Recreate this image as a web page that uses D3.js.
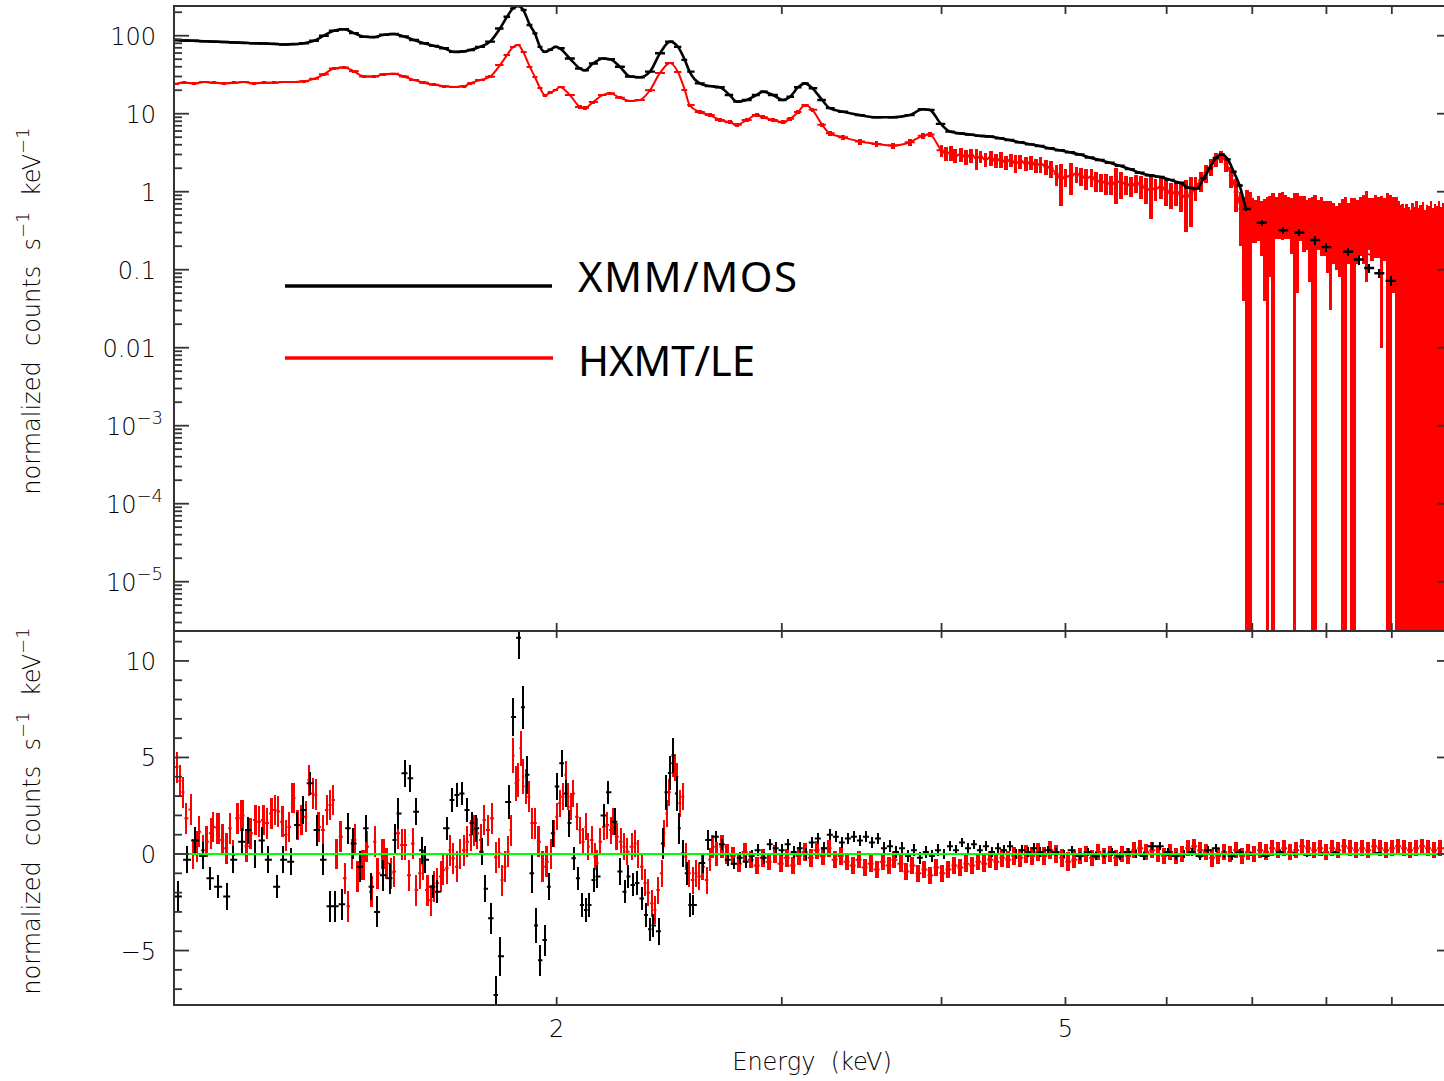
<!DOCTYPE html>
<html>
<head>
<meta charset="utf-8">
<script src="https://cdn.jsdelivr.net/npm/d3@7"></script>
<style>
  html, body { margin: 0; padding: 0; background: #fff; }
  svg { display: block; }
  .lbl { font-family: "DejaVu Sans", sans-serif; font-weight: 200; fill: #000; font-size: 24px; }
  .legend { font-family: "Noto Sans", "Open Sans", sans-serif; fill: #000; font-size: 42px; }
</style>
</head>
<body>
<svg id="chart" width="1444" height="1081"></svg>
<script>
// ---------------- data: [energy keV, normalized counts s^-1 keV^-1, error] ----------------
const mosSpectrum = [
  [1.004,88,1.2],[1.022,87,1.2],[1.041,86,1.2],[1.060,85,1.1],[1.079,84,1.1],[1.099,83,1.1],[1.119,82,1.1],[1.139,81,1.1],
  [1.160,80,1.0],[1.181,79.5,1.0],[1.202,78.5,1.0],[1.224,77,1.0],[1.246,78,1.0],[1.269,80,1.0],[1.292,86,1.1],[1.315,100,1.3],
  [1.339,116,1.5],[1.364,121,1.5],[1.388,108,1.4],[1.414,97,1.3],[1.439,96,1.3],[1.466,103,1.3],[1.492,105,1.4],[1.519,98,1.3],
  [1.547,88,1.2],[1.575,80,1.1],[1.604,74,1.0],[1.633,69,1.0],[1.662,62,0.9],[1.693,63,0.9],[1.711,65.5,0.9],[1.742,72,1.0],
  [1.774,84,1.1],[1.806,124,1.6],[1.829,175,2.2],[1.849,224,2.8],[1.866,240,3.0],[1.883,214,2.7],[1.906,137,1.8],[1.923,107,1.4],
  [1.941,72,1.0],[1.958,62,0.9],[1.976,66,0.9],[1.997,72,1.0],[2.011,69,1.0],[2.048,51,0.8],[2.086,38,0.6],[2.104,36,0.6],
  [2.135,44,0.7],[2.174,51,0.8],[2.202,50,0.8],[2.241,40,0.7],[2.282,30,0.5],[2.323,29.3,0.5],[2.366,34.6,0.6],[2.409,59.5,0.9],
  [2.453,84,1.2],[2.488,72,1.1],[2.519,49,0.8],[2.541,34.6,0.6],[2.588,24.5,0.4],[2.635,22.6,0.4],[2.683,21.8,0.4],[2.731,17.4,0.35],
  [2.766,14.3,0.3],[2.816,15,0.3],[2.868,17.4,0.35],[2.899,19.2,0.35],[2.952,17.4,0.3],[3.006,15,0.3],[3.045,16.5,0.35],[3.089,21.8,0.4],
  [3.128,24.5,0.4],[3.170,21.2,0.35],[3.226,15,0.3],[3.270,11.8,0.25],[3.350,10.6,0.22],[3.453,9.6,0.2],[3.558,9.0,0.2],[3.664,9.0,0.2],
  [3.777,9.6,0.2],[3.867,11.4,0.2],[3.915,11.2,0.2],[3.995,7.4,0.22],[4.06,5.9,0.15],[4.134,5.6,0.13],[4.21,5.4,0.13],[4.285,5.2,0.12],
  [4.36,5.1,0.12],[4.443,4.85,0.12],[4.52,4.6,0.11],[4.605,4.3,0.1],[4.69,4.05,0.1],[4.774,3.85,0.09],[4.86,3.6,0.09],[4.95,3.4,0.08],
  [5.04,3.2,0.08],[5.131,3.0,0.07],[5.22,2.75,0.07],[5.319,2.55,0.07],[5.415,2.35,0.06],[5.514,2.15,0.06],[5.614,1.95,0.05],[5.715,1.75,0.05],
  [5.82,1.62,0.05],[5.925,1.55,0.05],[6.033,1.42,0.05],[6.142,1.3,0.05],[6.25,1.12,0.04],[6.334,1.1,0.04],[6.415,1.5,0.05],[6.48,2.0,0.06],
  [6.555,2.7,0.08],[6.626,3.0,0.09],[6.698,2.6,0.08],[6.77,1.8,0.07],[6.842,1.2,0.05],[6.92,0.6,0.04],[7.12,0.40,0.04],[7.40,0.32,0.035],
  [7.62,0.30,0.03],[7.84,0.24,0.03],[8.00,0.195,0.025],[8.32,0.17,0.02],[8.48,0.135,0.02],[8.64,0.105,0.015],[8.80,0.09,0.012],[8.98,0.072,0.01]
];

const leSpectrum = [
  [1.004,24,1.0],[1.022,25,1.0],[1.041,24.5,1.0],[1.060,25.5,1.0],[1.079,25,1.0],[1.099,24.5,1.0],[1.119,25,1.0],[1.139,25.5,1.0],
  [1.160,24.5,1.0],[1.181,25,1.0],[1.202,25,1.0],[1.224,25.5,1.0],[1.246,25.5,1.0],[1.269,26,1.0],[1.292,28,1.1],[1.315,32,1.2],
  [1.339,38,1.4],[1.364,39,1.4],[1.388,35,1.3],[1.414,30,1.2],[1.439,30,1.2],[1.466,32,1.2],[1.492,32.5,1.2],[1.519,30,1.2],
  [1.547,27,1.1],[1.575,25,1.0],[1.604,23.5,1.0],[1.633,22.5,0.9],[1.662,22,0.9],[1.693,22.5,0.9],[1.711,24.5,1.0],[1.742,27,1.0],
  [1.774,29.8,1.1],[1.806,42,1.5],[1.829,56.5,2.0],[1.849,71.6,2.4],[1.866,76,2.5],[1.883,61.8,2.2],[1.906,39.7,1.5],[1.923,29.6,1.2],
  [1.941,21.4,0.9],[1.958,17.3,0.8],[1.976,18.5,0.8],[1.997,20.2,0.8],[2.011,22.0,0.9],[2.048,17.4,0.7],[2.086,12.2,0.6],[2.104,11.8,0.6],
  [2.135,14.1,0.6],[2.174,17.4,0.7],[2.202,18.3,0.7],[2.241,16,0.7],[2.282,14.6,0.6],[2.323,15,0.6],[2.366,20,0.8],[2.409,33.3,1.2],
  [2.453,44.7,1.6],[2.488,34.3,1.3],[2.519,20.2,0.8],[2.541,12.9,0.6],[2.588,10.5,0.5],[2.635,9.6,0.5],[2.683,8.3,0.5],[2.731,7.8,0.5],
  [2.766,7.2,0.5],[2.816,8.3,0.5],[2.868,9.6,0.5],[2.899,9.0,0.5],[2.952,8.3,0.5],[3.006,7.8,0.5],[3.045,8.6,0.5],[3.089,10.5,0.6],
  [3.128,12.9,0.6],[3.170,11.2,0.6],[3.226,7.2,0.5],[3.270,5.6,0.4],[3.350,5.0,0.4],[3.453,4.4,0.4],[3.558,4.1,0.35],[3.664,3.9,0.35],
  [3.777,4.3,0.4],[3.867,5.2,0.4],[3.915,5.4,0.4],
  [4.00,3.4,0.6],[4.03,3.1,0.6],[4.07,3.2,0.7],[4.10,2.9,0.6],[4.14,3.0,0.6],[4.18,2.8,0.6],[4.22,2.95,0.6],[4.26,2.7,0.8],
  [4.29,2.8,0.5],[4.33,2.6,0.5],[4.37,2.75,0.6],[4.41,2.5,0.5],[4.45,2.6,0.6],[4.49,2.4,0.5],[4.53,2.55,0.5],[4.57,2.35,0.6],
  [4.61,2.45,0.5],[4.66,2.3,0.45],[4.70,2.4,0.5],[4.74,2.2,0.45],[4.78,2.25,0.5],[4.83,2.1,0.45],[4.87,2.0,0.5],[4.92,1.7,0.5],
  [4.96,1.45,0.8],[5.00,1.55,0.4],[5.05,1.6,0.7],[5.10,1.7,0.4],[5.14,1.6,0.4],[5.19,1.5,0.45],[5.24,1.55,0.4],[5.28,1.4,0.4],
  [5.33,1.35,0.35],[5.38,1.3,0.4],[5.43,1.25,0.35],[5.48,1.35,0.65],[5.53,1.3,0.5],[5.58,1.25,0.35],[5.63,1.2,0.35],[5.68,1.3,0.35],
  [5.73,1.2,0.4],[5.78,1.1,0.4],[5.83,1.05,0.6],[5.88,1.1,0.35],[5.94,1.15,0.35],[5.99,1.05,0.4],[6.05,0.95,0.35],[6.10,1.0,0.35],
  [6.16,0.9,0.35],[6.21,0.85,0.55],[6.27,0.95,0.6],[6.32,1.15,0.4],[6.38,1.4,0.4],[6.44,1.75,0.45],[6.50,2.1,0.5],[6.56,2.6,0.5],
  [6.62,2.85,0.5],[6.68,2.3,0.5],[6.74,1.6,0.5],[6.80,1.0,0.45],[6.86,0.6,0.4],
  [6.89,0.45,0.41],[6.93,0.50,0.55],[6.97,0.48,0.50],[7.00,0.52,0.30],[7.04,0.50,0.28],[7.08,0.55,0.32],[7.12,0.45,0.30],[7.16,0.42,0.38],
  [7.19,0.40,0.45],[7.23,0.48,0.40],[7.27,0.45,0.50],[7.31,0.55,0.30],[7.35,0.60,0.35],[7.39,0.62,0.38],[7.43,0.58,0.33],[7.47,0.55,0.30],
  [7.51,0.50,0.34],[7.55,0.45,0.50],[7.59,0.50,0.45],[7.64,0.55,0.32],[7.68,0.52,0.35],[7.72,0.48,0.30],[7.76,0.45,0.38],[7.80,0.40,0.45],
  [7.84,0.42,0.48],[7.89,0.48,0.30],[7.93,0.50,0.35],[7.97,0.45,0.30],[8.02,0.42,0.33],[8.06,0.40,0.37],[8.10,0.42,0.30],[8.15,0.38,0.28],
  [8.19,0.40,0.32],[8.24,0.38,0.42],[8.28,0.40,0.45],[8.32,0.42,0.30],[8.37,0.38,0.45],[8.41,0.40,0.44],[8.46,0.45,0.33],[8.51,0.50,0.35],
  [8.55,0.52,0.40],[8.60,0.55,0.48],[8.64,0.50,0.32],[8.69,0.48,0.35],[8.74,0.52,0.38],[8.79,0.50,0.36],[8.83,0.45,0.44],[8.88,0.48,0.35],
  [8.93,0.45,0.50],[8.98,0.42,0.48],[9.03,0.45,0.40],[9.07,0.40,0.45],
  [9.11,0.35,0.40],[9.14,0.30,0.38],[9.17,0.33,0.36],[9.21,0.28,0.33],[9.24,0.32,0.37],[9.28,0.30,0.34],[9.31,0.27,0.31],[9.34,0.33,0.38],
  [9.38,0.30,0.33],[9.41,0.35,0.40],[9.45,0.29,0.32],[9.48,0.31,0.36],[9.52,0.34,0.39],[9.55,0.28,0.31],[9.59,0.32,0.36],[9.62,0.30,0.35],
  [9.66,0.36,0.41],[9.69,0.29,0.33],[9.73,0.33,0.37],[9.76,0.31,0.34],[9.80,0.35,0.40],[9.83,0.30,0.33],[9.87,0.34,0.38],[9.90,0.32,0.36],
  [9.94,0.33,0.37],[9.97,0.30,0.35],[10.01,0.34,0.38]
];

// HXMT/LE folded model above the iron line
const leModel = [
  [6.9,0.62],[7.1,0.45],[7.4,0.36],[7.7,0.29],[8.0,0.23],[8.3,0.19],[8.6,0.16],[8.9,0.14],[9.2,0.12],[9.6,0.105],[10.0,0.095]
];

// residuals: [energy keV, data - model, error]
const mosResid = [
  [1.011,-2.2,0.8],[1.028,-0.3,0.7],[1.043,0.7,0.7],[1.058,-0.1,0.7],[1.071,-1.26,0.6],[1.087,-1.7,0.6],[1.105,-2.2,0.7],[1.117,-0.3,0.7],
  [1.135,0.64,0.7],[1.147,1.24,0.7],[1.162,0.0,0.7],[1.176,0.7,0.7],[1.189,-0.3,0.7],[1.209,-1.7,0.6],[1.222,-0.3,0.7],[1.240,-0.4,0.7],
  [1.253,1.5,0.7],[1.267,2.28,0.7],[1.283,3.66,0.6],[1.299,1.24,0.8],[1.313,-0.3,0.8],[1.330,-2.7,0.8],[1.342,-2.7,0.8],[1.359,-2.6,0.8],
  [1.374,1.33,0.8],[1.386,0.55,0.8],[1.404,-0.66,0.8],[1.419,1.33,0.7],[1.432,-1.7,0.7],[1.447,-3.0,0.8],[1.463,-1.1,0.8],[1.481,-1.26,0.8],
  [1.495,0.73,0.8],[1.503,2.1,0.8],[1.522,4.18,0.7],[1.536,3.92,0.7],[1.553,2.19,0.7],[1.569,0.2,0.7],[1.578,-0.3,0.7],[1.601,-1.7,0.6],
  [1.612,-1.95,0.6],[1.642,1.33,0.6],[1.656,2.8,0.6],[1.671,3.06,0.6],[1.686,3.14,0.6],[1.702,2.28,0.6],[1.717,1.6,0.6],[1.730,1.33,0.7],
  [1.749,0.12,0.7],[1.758,-1.8,0.7],[1.777,-3.33,0.8],[1.793,-7.3,1.0],[1.806,-5.3,1.0],[1.836,2.7,0.9],[1.849,7.1,1.0],[1.869,11.2,1.1],
  [1.882,7.6,1.1],[1.896,4.1,1.0],[1.913,-1.0,1.0],[1.927,-3.7,0.9],[1.941,-5.5,0.8],[1.958,-4.46,0.8],[1.972,-1.7,0.7],[1.986,1.07,0.7],
  [2.000,3.5,0.7],[2.019,4.7,0.7],[2.034,3.14,0.7],[2.045,1.6,0.7],[2.063,-0.22,0.6],[2.078,-1.26,0.6],[2.093,-2.64,0.6],[2.109,-2.9,0.6],
  [2.120,-2.64,0.6],[2.139,-1.35,0.6],[2.151,-1.17,0.6],[2.178,2.0,0.6],[2.194,3.2,0.6],[2.221,1.67,0.7],[2.241,-0.9,0.7],[2.262,-1.95,0.6],
  [2.274,-1.17,0.6],[2.295,-1.6,0.6],[2.311,-1.5,0.6],[2.332,-2.3,0.6],[2.349,-3.16,0.6],[2.366,-3.9,0.6],[2.379,-3.7,0.6],[2.404,-4.0,0.7],
  [2.422,0.55,0.8],[2.435,3.2,0.9],[2.452,4.2,0.9],[2.466,5.1,0.9],[2.483,3.14,0.9],[2.492,1.33,0.8],[2.510,0.03,0.7],[2.528,-1.0,0.6],
  [2.542,-2.64,0.6],[2.556,-2.64,0.5],[2.602,-0.47,0.5],[2.625,0.72,0.5],
  [2.664,0.9,0.3],[2.693,0.5,0.3],[2.722,-0.3,0.3],[2.751,-0.5,0.3],[2.781,-0.2,0.3],[2.811,-0.4,0.3],[2.841,-0.1,0.3],[2.872,0.2,0.3],
  [2.904,-0.2,0.3],[2.935,0.5,0.3],[2.967,0.3,0.3],[2.999,0.2,0.3],[3.032,0.5,0.3],[3.065,0.1,0.3],[3.099,0.3,0.3],[3.132,0.0,0.3],
  [3.166,0.6,0.3],[3.201,0.8,0.3],[3.236,0.3,0.3],[3.271,1.0,0.3],[3.307,0.9,0.3],[3.343,0.6,0.3],[3.379,0.8,0.3],[3.416,0.9,0.3],
  [3.453,0.7,0.3],[3.491,0.9,0.3],[3.529,0.6,0.3],[3.567,0.8,0.3],[3.606,0.3,0.3],[3.645,0.4,0.3],[3.685,0.1,0.3],[3.725,0.3,0.3],
  [3.766,-0.1,0.3],[3.807,0.2,0.3],[3.846,-0.2,0.3],[3.889,0.1,0.3],[3.931,-0.1,0.3],[3.974,0.2,0.3],[4.017,0.0,0.25],[4.061,0.4,0.25],
  [4.105,0.2,0.25],[4.150,0.6,0.25],[4.195,0.3,0.25],[4.241,0.5,0.25],[4.285,0.2,0.25],[4.333,0.4,0.25],[4.381,0.1,0.25],[4.428,0.3,0.25],
  [4.476,0.2,0.25],[4.525,0.4,0.25],[4.575,0.0,0.25],[4.625,0.2,0.25],[4.675,0.1,0.25],[4.726,0.3,0.25],[4.774,0.1,0.25],
  [4.842,0.2,0.2],[4.912,0.1,0.2],[4.984,0.0,0.2],[5.056,0.2,0.2],[5.131,-0.1,0.2],[5.204,0.1,0.2],[5.280,-0.1,0.2],[5.356,0.0,0.2],
  [5.434,0.1,0.2],[5.514,-0.1,0.2],[5.593,0.1,0.2],[5.675,0.0,0.2],[5.756,-0.1,0.2],[5.841,0.4,0.2],[5.925,0.4,0.2],[6.011,0.1,0.2],
  [6.098,-0.1,0.2],[6.186,0.0,0.2],[6.276,0.1,0.2],[6.367,-0.1,0.2],[6.459,0.2,0.2],[6.555,0.3,0.2],[6.647,0.0,0.2],[6.744,-0.1,0.2],
  [6.842,0.1,0.15],[6.99,0.0,0.12],[7.17,-0.1,0.1],[7.356,0.1,0.1],[7.54,0.0,0.1],[7.73,-0.05,0.08],[7.93,0.0,0.08],[8.13,0.05,0.08],
  [8.34,0.0,0.06],[8.55,0.0,0.06],[8.77,0.05,0.06],[8.99,0.0,0.05]
];

const leResid = [
  [1.009,4.5,0.8],[1.015,3.8,0.8],[1.020,3.2,0.8],[1.026,1.85,0.8],[1.035,2.3,0.8],[1.039,0.0,0.8],[1.046,0.4,0.8],[1.050,1.15,0.8],
  [1.058,0.2,0.8],[1.065,0.64,0.8],[1.073,1.07,0.8],[1.077,1.4,0.8],[1.087,1.33,0.8],[1.095,0.73,0.8],[1.103,0.3,0.8],[1.111,1.33,0.8],
  [1.117,-0.05,0.8],[1.125,1.85,0.8],[1.135,2.0,0.8],[1.145,0.4,0.8],[1.153,1.07,0.8],[1.162,1.76,0.8],[1.170,1.67,0.8],[1.179,1.76,0.8],
  [1.187,1.6,0.8],[1.196,2.1,0.8],[1.204,2.28,0.8],[1.211,2.2,0.8],[1.220,1.67,0.8],[1.228,0.98,0.8],[1.235,1.4,0.8],[1.244,2.9,0.8],
  [1.255,1.5,0.8],[1.264,1.76,0.8],[1.273,1.93,0.8],[1.280,3.83,0.8],[1.289,3.14,0.8],[1.296,3.06,0.8],[1.303,1.4,0.8],[1.313,1.24,0.8],
  [1.322,2.28,0.8],[1.330,2.54,0.8],[1.337,2.8,0.8],[1.346,0.0,0.8],[1.356,0.9,0.8],[1.366,-1.26,0.8],[1.374,-2.7,0.8],[1.383,0.0,0.8],
  [1.391,0.73,0.8],[1.398,-1.17,0.8],[1.411,-0.57,0.8],[1.421,0.38,0.8],[1.432,-1.95,0.8],[1.442,0.64,0.8],[1.449,-1.0,0.8],[1.463,0.0,0.8],
  [1.473,-0.48,0.8],[1.484,-1.0,0.8],[1.492,-0.9,0.8],[1.503,1.07,0.8],[1.514,0.47,0.8],[1.522,0.47,0.8],[1.533,-1.1,0.8],[1.544,0.55,0.8],
  [1.553,-1.87,0.8],[1.564,-1.0,0.8],[1.572,-0.57,0.8],[1.584,-1.87,0.8],[1.595,-2.4,0.8],[1.604,-1.7,0.8],[1.612,-1.5,0.8],[1.624,-1.17,0.8],
  [1.630,-0.83,0.8],[1.642,-0.74,0.8],[1.650,0.2,0.8],[1.659,-0.22,0.8],[1.671,-0.66,0.8],[1.680,0.0,0.8],[1.693,0.2,0.8],[1.702,0.64,0.8],
  [1.714,0.98,0.8],[1.723,1.24,0.8],[1.733,1.07,0.8],[1.745,0.73,0.8],[1.755,1.76,0.8],[1.767,1.24,0.8],[1.780,1.85,0.8],[1.793,-0.17,0.8],
  [1.803,0.05,0.8],[1.813,-1.35,0.8],[1.822,-0.66,0.8],[1.832,0.12,0.8],[1.842,1.24,0.8],[1.849,5.1,0.9],[1.859,3.66,0.9],[1.865,3.83,0.9],
  [1.875,5.48,0.9],[1.882,4.0,0.9],[1.892,3.5,0.9],[1.902,2.97,0.8],[1.913,1.6,0.8],[1.923,1.6,0.8],[1.937,0.64,0.8],[1.951,-0.66,0.8],
  [1.965,-0.4,0.8],[1.979,0.0,0.8],[1.990,1.07,0.7],[2.000,1.93,0.7],[2.011,2.63,0.7],[2.022,2.97,0.7],[2.034,4.1,0.7],[2.041,2.97,0.7],
  [2.052,2.45,0.7],[2.060,3.14,0.7],[2.075,1.93,0.7],[2.086,1.24,0.7],[2.097,0.64,0.7],[2.109,1.4,0.7],[2.116,0.38,0.7],[2.131,0.73,0.7],
  [2.143,-0.14,0.7],[2.151,-0.48,0.7],[2.163,0.64,0.7],[2.178,1.4,0.7],[2.190,1.5,0.7],[2.206,1.24,0.7],[2.213,1.67,0.7],[2.229,0.9,0.7],
  [2.245,0.64,0.7],[2.258,0.38,0.7],[2.270,0.12,0.7],[2.291,0.38,0.7],[2.303,0.55,0.7],[2.316,0.0,0.7],[2.332,-0.66,0.7],[2.345,-1.5,0.7],
  [2.358,-2.0,0.7],[2.375,-2.55,0.7],[2.387,-2.9,0.7],[2.400,-1.87,0.7],[2.417,-1.0,0.7],[2.426,1.07,0.7],[2.439,2.1,0.7],[2.448,3.2,0.7],
  [2.466,4.7,0.7],[2.474,4.5,0.7],[2.483,4.0,0.7],[2.497,2.63,0.7],[2.510,2.97,0.7],[2.524,-0.14,0.7],[2.537,-1.0,0.7],[2.556,-1.35,0.7],
  [2.570,-1.0,0.7],[2.584,-1.17,0.7],[2.602,-0.66,0.7],[2.621,-1.35,0.7],[2.635,-0.3,0.6],[2.649,0.38,0.6],[2.669,0.0,0.6],[2.693,0.38,0.6],
  [2.717,0.0,0.5],
  [2.746,-0.1,0.45],[2.776,-0.5,0.45],[2.806,0.1,0.45],[2.836,-0.3,0.45],[2.867,-0.6,0.45],[2.898,-0.2,0.45],[2.930,-0.4,0.45],[2.961,0.0,0.45],
  [2.994,-0.5,0.45],[3.026,-0.2,0.45],[3.059,-0.6,0.45],[3.092,-0.1,0.45],[3.126,0.1,0.45],[3.160,-0.2,0.45],[3.194,0.2,0.45],[3.229,-0.1,0.45],
  [3.264,0.3,0.45],[3.299,-0.3,0.45],[3.335,-0.1,0.45],[3.371,-0.4,0.45],[3.408,-0.6,0.45],[3.445,-0.3,0.45],[3.482,-0.7,0.45],[3.520,-0.5,0.45],
  [3.558,-0.8,0.45],[3.597,-0.4,0.45],[3.636,-0.6,0.45],[3.675,-0.3,0.45],[3.715,-0.5,0.45],[3.755,-0.9,0.45],[3.796,-0.6,0.45],[3.837,-1.0,0.45],
  [3.879,-0.8,0.45],[3.921,-1.1,0.45],[3.963,-0.7,0.45],[4.006,-1.0,0.45],[4.050,-0.8,0.45],[4.094,-0.6,0.45],[4.138,-0.7,0.45],[4.183,-0.5,0.45],
  [4.228,-0.6,0.45],[4.274,-0.4,0.45],[4.320,-0.5,0.45],[4.367,-0.3,0.45],[4.415,-0.4,0.45],[4.463,-0.2,0.45],[4.511,-0.3,0.45],[4.560,-0.1,0.45],
  [4.610,-0.2,0.45],[4.660,0.0,0.45],[4.710,-0.1,0.45],[4.761,0.1,0.45],[4.813,-0.1,0.45],[4.865,0.2,0.45],[4.918,0.0,0.45],[4.971,-0.2,0.45],
  [5.025,-0.4,0.5],[5.080,-0.3,0.45],[5.135,-0.1,0.4],[5.191,0.0,0.4],[5.247,-0.2,0.4],[5.304,0.1,0.4],[5.362,-0.1,0.4],[5.420,0.0,0.4],
  [5.479,-0.2,0.4],[5.538,0.0,0.4],[5.599,-0.1,0.4],[5.659,0.2,0.4],[5.721,0.3,0.4],[5.783,0.1,0.4],[5.846,0.2,0.4],[5.909,0.0,0.4],
  [5.973,-0.1,0.4],[6.038,0.1,0.4],[6.104,-0.1,0.4],[6.170,0.0,0.4],[6.237,0.3,0.4],[6.305,0.4,0.4],[6.373,0.2,0.4],[6.442,0.1,0.4],
  [6.512,-0.2,0.45],[6.583,-0.1,0.4],[6.654,0.1,0.4],[6.727,0.0,0.4],[6.800,0.2,0.4],[6.874,-0.1,0.4],[6.948,0.1,0.4],[7.024,0.0,0.4],
  [7.100,0.2,0.4],[7.177,0.1,0.4],[7.255,0.3,0.4],[7.334,0.2,0.4],[7.414,0.3,0.4],[7.494,0.1,0.4],[7.576,0.2,0.4],[7.658,0.4,0.4],
  [7.741,0.3,0.4],[7.825,0.2,0.4],[7.910,0.3,0.4],[7.996,0.1,0.4],[8.083,0.3,0.4],[8.171,0.2,0.4],[8.259,0.4,0.4],[8.349,0.3,0.4],
  [8.440,0.2,0.4],[8.531,0.3,0.4],[8.624,0.2,0.4],[8.718,0.4,0.4],[8.812,0.3,0.4],[8.908,0.2,0.4],[9.005,0.3,0.4],[9.102,0.4,0.4],
  [9.201,0.3,0.4],[9.301,0.2,0.4],[9.402,0.3,0.4],[9.504,0.4,0.4],[9.607,0.3,0.4],[9.712,0.2,0.4],[9.817,0.3,0.4],[9.924,0.3,0.4]
];

// axis ticks
const topTickValues = [100, 10, 1, 0.1, 0.01, 1e-3, 1e-4, 1e-5];
const topTickText   = ["100", "10", "1", "0.1", "0.01", ["10", "\u22123"], ["10", "\u22124"], ["10", "\u22125"]];
const resTickValues = [10, 5, 0, -5];
const resTickText   = ["10", "5", "0", "\u22125"];
const energyTickValues = [2, 5];
const energyTickText   = ["2", "5"];
const legendLabels = ["XMM/MOS", "HXMT/LE"];

// ---------------- layout ----------------
const L = 174, R = 1452, T = 6, M = 631, B = 1005;
const INK = "#333";

const x = d3.scaleLog().domain([1.004, 10.03]).range([L, R]);
const yTop = d3.scaleLog().domain([2.333e-6, 240.4]).range([M, T]);
const yRes = d3.scaleLinear().domain([-7.82, 11.55]).range([B, M]);

const svg = d3.select("#chart");
svg.append("rect").attr("width", 1444).attr("height", 1081).attr("fill", "#fff");

const defs = svg.append("defs");
defs.append("clipPath").attr("id", "clipTop").append("rect")
  .attr("x", L).attr("y", T).attr("width", R - L).attr("height", M - T);
defs.append("clipPath").attr("id", "clipRes").append("rect")
  .attr("x", L).attr("y", M).attr("width", R - L).attr("height", B - M);

// channel edges: geometric midpoints between neighbouring energies
function withEdges(rows) {
  return rows.map((r, i) => {
    const e = r[0];
    const prev = i > 0 ? rows[i - 1][0] : null;
    const next = i < rows.length - 1 ? rows[i + 1][0] : null;
    const lo = prev ? Math.sqrt(prev * e) : e * Math.sqrt(e / next);
    const hi = next ? Math.sqrt(e * next) : e * Math.sqrt(e / prev);
    return { e, v: r[1], err: r[2], lo, hi };
  });
}

// data crosses: horizontal channel bar + vertical error bar, optional model-like trace
function drawSeries(g, rows, color, yScale, opt) {
  const b = withEdges(rows);
  const isLog = opt.log;
  const bottomPix = yScale.range()[0] + 20;
  const yv = v => (isLog && v <= 0) ? bottomPix : yScale(v);

  if (opt.traceMax) {
    const pts = b.filter(d => d.e <= opt.traceMax);
    g.append("path")
      .attr("d", d3.line().x(d => x(d.e)).y(d => yv(d.v)).curve(d3.curveMonotoneX)(pts))
      .attr("fill", "none").attr("stroke", color).attr("stroke-width", opt.lineWidth);
  }

  let dh = "";
  b.forEach(d => {
    const cx = x(d.e);
    const x0 = Math.max(x(d.lo), cx - opt.cap);
    const x1 = Math.min(x(d.hi), cx + opt.cap);
    const cy = yv(d.v);
    dh += `M${x0.toFixed(2)},${cy.toFixed(2)}H${x1.toFixed(2)}`;
  });
  g.append("path").attr("d", dh).attr("fill", "none").attr("stroke", color).attr("stroke-width", opt.hWidth);

  g.append("g").attr("shape-rendering", "crispEdges").selectAll("rect").data(b).join("rect")
    .attr("fill", color)
    .each(function (d) {
      const cx = x(d.e);
      const binPx = x(d.hi) - x(d.lo);
      const w = Math.max(opt.barMin, Math.min(opt.barMax, binPx * opt.barFrac));
      const top = yv(d.v + d.err);
      const bot = yv(d.v - d.err);
      d3.select(this).attr("x", cx - w / 2).attr("width", w)
        .attr("y", Math.min(top, bot)).attr("height", Math.abs(bot - top));
    });
}

// ---------------- upper panel: folded spectra ----------------
const gTop = svg.append("g").attr("clip-path", "url(#clipTop)");
drawSeries(gTop, leSpectrum, "#ff0000", yTop,
  { log: true, traceMax: 11, lineWidth: 2, cap: 5, hWidth: 2, barMin: 2.6, barMax: 3.8, barFrac: 1.2 });
gTop.append("path")
  .attr("d", d3.line().x(d => x(d[0])).y(d => yTop(d[1])).curve(d3.curveMonotoneX)(leModel))
  .attr("fill", "none").attr("stroke", "#ff0000").attr("stroke-width", 2);
drawSeries(gTop, mosSpectrum, "#000", yTop,
  { log: true, traceMax: 6.95, lineWidth: 2.6, cap: 5, hWidth: 2.4, barMin: 2, barMax: 2, barFrac: 1 });

// ---------------- lower panel: residuals ----------------
const gRes = svg.append("g").attr("clip-path", "url(#clipRes)");
drawSeries(gRes, leResid, "#ff0000", yRes,
  { log: false, traceMax: 0, cap: 4, hWidth: 2, barMin: 2, barMax: 4, barFrac: 0.7 });
drawSeries(gRes, mosResid, "#000", yRes,
  { log: false, traceMax: 0, cap: 4, hWidth: 2, barMin: 2, barMax: 2, barFrac: 1 });
gRes.append("line").attr("x1", L).attr("x2", R).attr("y1", yRes(0)).attr("y2", yRes(0))
  .attr("stroke", "#00ff00").attr("stroke-width", 2);

// ---------------- frames and ticks ----------------
const gAx = svg.append("g").attr("stroke", INK).attr("fill", "none");
gAx.append("rect").attr("x", L).attr("y", T).attr("width", R - L).attr("height", M - T).attr("stroke-width", 2);
gAx.append("rect").attr("x", L).attr("y", M).attr("width", R - L).attr("height", B - M).attr("stroke-width", 2);

function tick(x1, y1, x2, y2) {
  gAx.append("line").attr("x1", x1).attr("y1", y1).attr("x2", x2).attr("y2", y2).attr("stroke-width", 1.8);
}

// log ticks on the spectrum panel
for (let p = -6; p <= 2; p++) {
  for (let k = 1; k <= 9; k++) {
    const v = k * Math.pow(10, p);
    if (v < yTop.domain()[0] || v > yTop.domain()[1]) continue;
    const yy = yTop(v);
    const len = k === 1 ? 15 : 8;
    tick(L, yy, L + len, yy);
    tick(R, yy, R - len, yy);
  }
}
// linear ticks on the residual panel
for (let v = -7; v <= 11; v++) {
  const yy = yRes(v);
  const len = v % 5 === 0 ? 15 : 8;
  tick(L, yy, L + len, yy);
  tick(R, yy, R - len, yy);
}
// energy ticks on every horizontal edge
for (let e = 2; e <= 9; e++) {
  const xx = x(e);
  tick(xx, T, xx, T + 8);
  tick(xx, M, xx, M - 8);
  tick(xx, M, xx, M + 7);
  tick(xx, B, xx, B - 8);
}

// ---------------- labels ----------------
const gLbl = svg.append("g");
topTickValues.forEach((v, i) => {
  const t = topTickText[i];
  const yy = yTop(v);
  if (Array.isArray(t)) {
    const txt = gLbl.append("text").attr("class", "lbl").attr("x", 163).attr("y", yy + 9).attr("text-anchor", "end");
    txt.append("tspan").text(t[0]);
    txt.append("tspan").attr("dy", -11).attr("font-size", "18px").text(t[1]);
  } else {
    gLbl.append("text").attr("class", "lbl").attr("x", 156).attr("y", yy + 9).attr("text-anchor", "end").text(t);
  }
});
resTickValues.forEach((v, i) => {
  gLbl.append("text").attr("class", "lbl").attr("x", 156).attr("y", yRes(v) + 9)
    .attr("text-anchor", "end").text(resTickText[i]);
});
energyTickValues.forEach((e, i) => {
  gLbl.append("text").attr("class", "lbl").attr("x", x(e)).attr("y", 1037)
    .attr("text-anchor", "middle").text(energyTickText[i]);
});
gLbl.append("text").attr("class", "lbl").attr("x", 812).attr("y", 1070)
  .attr("text-anchor", "middle").style("white-space", "pre")
  .text("Energy  (keV)");

function yTitle(cy) {
  const t = gLbl.append("text").attr("class", "lbl")
    .attr("transform", `translate(40,${cy}) rotate(-90)`)
    .attr("text-anchor", "middle").style("white-space", "pre");
  t.append("tspan").text("normalized  counts  s");
  t.append("tspan").attr("dy", -11).attr("font-size", "18px").text("\u22121");
  t.append("tspan").attr("dy", 11).text("  keV");
  t.append("tspan").attr("dy", -11).attr("font-size", "18px").text("\u22121");
}
yTitle(311);
yTitle(811);

// ---------------- legend ----------------
const gLeg = svg.append("g");
gLeg.append("line").attr("x1", 285).attr("x2", 552).attr("y1", 286).attr("y2", 286)
  .attr("stroke", "#000").attr("stroke-width", 3.5);
gLeg.append("line").attr("x1", 285).attr("x2", 553).attr("y1", 358).attr("y2", 358)
  .attr("stroke", "#ff0000").attr("stroke-width", 3.5);
gLeg.append("text").attr("class", "legend").attr("x", 578).attr("y", 292)
  .attr("textLength", 219).attr("lengthAdjust", "spacing").text(legendLabels[0]);
gLeg.append("text").attr("class", "legend").attr("x", 578).attr("y", 376)
  .attr("textLength", 177).attr("lengthAdjust", "spacing").text(legendLabels[1]);
</script>
</body>
</html>
